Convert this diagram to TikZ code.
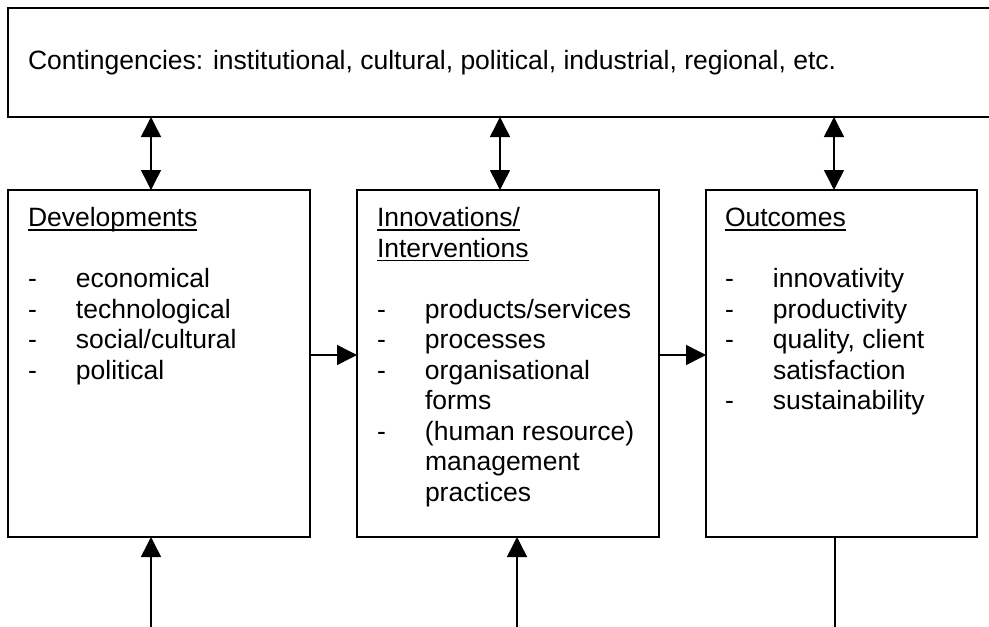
\documentclass[tikz,border=0pt]{standalone}
\usepackage{fontspec}
\setmainfont{Liberation Sans}
\usetikzlibrary{arrows.meta}
\newcommand{\ulx}[1]{\setbox0\hbox{#1}\rlap{\rule[-3.8pt]{\wd0}{1.5pt}}\box0}
\newcommand{\itm}{\makebox[48pt][l]{-}}
\begin{document}
\begin{tikzpicture}[x=1pt,y=-1pt,
  >={Triangle[length=20pt,width=20pt]},
  boxnode/.style={draw, line width=1.6pt, rectangle, inner sep=0pt, outer sep=0pt, anchor=north west},
  txt/.style={anchor=base west, inner sep=0pt, outer sep=0pt, align=left, font=\fontsize{26.5}{30.5}\selectfont},
  conn/.style={line width=1.5pt}]
\useasboundingbox (0,0) rectangle (989,627);
\fill[white] (0,0) rectangle (989,627);
% boxes
\node[boxnode, minimum width=983pt, minimum height=109pt] (top) at (8,8) {};
\node[boxnode, minimum width=302pt, minimum height=347pt] (dev) at (8,190) {};
\node[boxnode, minimum width=302pt, minimum height=347pt] (inn) at (357,190) {};
\node[boxnode, minimum width=271pt, minimum height=347pt] (out) at (706,190) {};
% texts
\node[txt] (toptext) at (28,69) {Contingencies: institutional, cultural, political, industrial, regional, etc.};
\node[txt] (devtext) at (28,226.7) {\begin{tabular}[t]{@{}l@{}l@{}}
\multicolumn{2}{@{}l@{}}{\ulx{Developments}}\\
 & \\
\itm & economical\\
\itm & technological\\
\itm & social/cultural\\
\itm & political
\end{tabular}};
\node[txt] (inntext) at (377,226.7) {\begin{tabular}[t]{@{}l@{}l@{}}
\multicolumn{2}{@{}l@{}}{\ulx{Innovations/}}\\
\multicolumn{2}{@{}l@{}}{\ulx{Interventions}}\\
 & \\
\itm & products/services\\
\itm & processes\\
\itm & organisational\\
 & forms\\
\itm & (human resource)\\
 & management\\
 & practices
\end{tabular}};
\node[txt] (outtext) at (725,226.7) {\begin{tabular}[t]{@{}l@{}l@{}}
\multicolumn{2}{@{}l@{}}{\ulx{Outcomes}}\\
 & \\
\itm & innovativity\\
\itm & productivity\\
\itm & quality, client\\
 & satisfaction\\
\itm & sustainability
\end{tabular}};
% connectors
\coordinate (ax1) at (151,0);
\coordinate (ax2) at (500,0);
\coordinate (ax3) at (834,0);
\coordinate (hy) at (0,355);
\coordinate (b1) at (151,630);
\coordinate (b2) at (517,630);
\coordinate (b3) at (835,630);
\draw[conn,<->] (top.south -| ax1) -- (dev.north -| ax1);
\draw[conn,<->] (top.south -| ax2) -- (inn.north -| ax2);
\draw[conn,<->] (top.south -| ax3) -- (out.north -| ax3);
\draw[conn,->] (dev.east |- hy) -- (inn.west |- hy);
\draw[conn,->] (inn.east |- hy) -- (out.west |- hy);
\draw[conn,->] (b1) -- (b1 |- dev.south);
\draw[conn,->] (b2) -- (b2 |- inn.south);
\draw[conn] (b3) -- (b3 |- out.south);
\end{tikzpicture}
\end{document}
